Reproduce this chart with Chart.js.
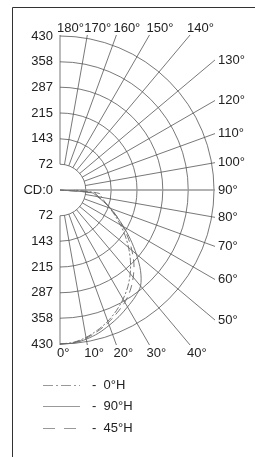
<!DOCTYPE html>
<html>
<head>
<meta charset="utf-8">
<script src="https://cdn.jsdelivr.net/npm/chart.js@4"></script>
<style>
  html, body { margin: 0; padding: 0; background: #fff; overflow: hidden; }
  canvas { display: block; }
</style>
</head>
<body>
<canvas id="polar" width="255" height="457"></canvas>
<script>
// Candela polar diagram, right half (0° = straight down)
const angles = [0, 5, 10, 15, 20, 25, 30, 35, 40, 45, 50, 55, 60, 65, 70, 75, 80, 85, 90];
const cd0H  = [430, 427, 418, 405, 390, 372, 352, 330, 305, 278, 250, 222, 195, 170, 148, 130, 118, 110, 40];
const cd90H = [430, 429, 423, 414, 402, 390, 377, 365, 350, 318, 278, 240, 205, 175, 150, 126, 106, 90, 0];
const cd45H = [430, 428, 420, 408, 394, 378, 362, 342, 318, 292, 262, 232, 202, 175, 150, 128, 110, 95, 0];

const radialTicks = [72, 143, 215, 287, 358, 430];
const angleTicks = [0, 10, 20, 30, 40, 50, 60, 70, 80, 90, 100, 110, 120, 130, 140, 150, 160, 170, 180];
const seriesNames = ['0°H', '90°H', '45°H'];

const FONT = '13px "Liberation Sans", Arial, sans-serif';
const CX = 60, CY = 190, R = 154;   // centre and outer radius in pixels
const W = 255, H = 457;
const k = R / 430;                  // pixels per candela

function toXY(vals) {
    return angles.map((a, i) => {
        const t = a * Math.PI / 180;
        return { x: vals[i] * Math.sin(t), y: -vals[i] * Math.cos(t) };
    });
}

const polarGrid = {
    id: 'polarGrid',
    beforeDatasetsDraw(chart) {
        const { ctx, scales: { x, y } } = chart;
        const cx = x.getPixelForValue(0), cy = y.getPixelForValue(0);
        const rad = v => x.getPixelForValue(v) - cx;
        const inner = rad(radialTicks[0]);
        const outer = rad(radialTicks[radialTicks.length - 1]);
        const lim = outer + 1;

        ctx.save();
        // frame
        ctx.strokeStyle = '#333';
        ctx.lineWidth = 1;
        ctx.beginPath();
        ctx.moveTo(12.5, H);
        ctx.lineTo(12.5, 7.5);
        ctx.lineTo(W, 7.5);
        ctx.stroke();

        // circles
        ctx.strokeStyle = '#555';
        ctx.lineWidth = 0.8;
        radialTicks.forEach(v => {
            ctx.beginPath();
            ctx.arc(cx, cy, rad(v), -Math.PI / 2, Math.PI / 2);
            ctx.stroke();
        });

        // spokes + angle labels
        ctx.font = FONT;
        ctx.fillStyle = '#222';
        angleTicks.forEach(a => {
            const t = a * Math.PI / 180;
            const sx = Math.sin(t), sy = Math.cos(t);
            const tEnd = Math.min(sx > 1e-6 ? lim / sx : Infinity, Math.abs(sy) > 1e-6 ? lim / Math.abs(sy) : Infinity);
            const r0 = a === 90 ? 0 : inner;
            ctx.strokeStyle = a === 90 ? '#999' : '#555';
            ctx.lineWidth = a === 90 ? 1.6 : 0.8;
            ctx.beginPath();
            ctx.moveTo(cx + r0 * sx, cy + r0 * sy);
            const ex = cx + tEnd * sx, ey = cy + tEnd * sy;
            ctx.lineTo(ex, ey);
            ctx.stroke();

            const txt = a + '°';
            ctx.textAlign = 'left';
            if (a >= 140) {
                ctx.textBaseline = 'alphabetic';
                ctx.fillText(txt, ex - 3, ey - 3);
            } else if (a <= 40) {
                ctx.textBaseline = 'top';
                ctx.fillText(txt, ex - 3, ey + 2);
            } else {
                ctx.textBaseline = 'middle';
                ctx.fillText(txt, ex + 3, ey);
            }
        });

        // radial value labels on the left
        ctx.textAlign = 'right';
        ctx.textBaseline = 'middle';
        ctx.fillText('CD:0', cx - 7, cy);
        radialTicks.forEach(v => {
            ctx.fillText(String(v), cx - 7, cy - rad(v));
            ctx.fillText(String(v), cx - 7, cy + rad(v));
        });
        ctx.restore();
    },
    afterDraw(chart) {
        // legend
        const { ctx } = chart;
        const rows = [385, 406, 428];
        ctx.save();
        ctx.font = FONT;
        chart.data.datasets.forEach((ds, i) => {
            const yy = rows[i] + 0.5;
            ctx.strokeStyle = '#999';
            ctx.lineWidth = 1;
            ctx.setLineDash(ds.legendDash || []);
            ctx.beginPath();
            ctx.moveTo(43, yy);
            ctx.lineTo(80, yy);
            ctx.stroke();
            ctx.setLineDash([]);
            ctx.fillStyle = '#222';
            ctx.textAlign = 'left';
            ctx.textBaseline = 'middle';
            ctx.fillText('-  ' + ds.label, 92, rows[i]);
        });
        ctx.restore();
    }
};

new Chart(document.getElementById('polar'), {
    type: 'scatter',
    data: {
        datasets: [
            { label: seriesNames[0], data: toXY(cd0H), borderDash: [7, 2, 2, 2], legendDash: [10, 3, 2, 3] },
            { label: seriesNames[1], data: toXY(cd90H), borderDash: [] },
            { label: seriesNames[2], data: toXY(cd45H), borderDash: [8, 5], legendDash: [12, 9] }
        ].map(d => Object.assign({
            showLine: true,
            pointRadius: 0,
            borderWidth: 0.9,
            borderColor: '#666',
            tension: 0.3,
            fill: false
        }, d))
    },
    options: {
        responsive: false,
        animation: false,
        devicePixelRatio: 1,
        layout: { padding: 0 },
        plugins: { legend: { display: false }, tooltip: { enabled: false } },
        scales: {
            x: { type: 'linear', display: false, min: -CX / k, max: (W - CX) / k },
            y: { type: 'linear', display: false, min: -(H - CY) / k, max: CY / k }
        }
    },
    plugins: [polarGrid]
});
</script>
</body>
</html>
